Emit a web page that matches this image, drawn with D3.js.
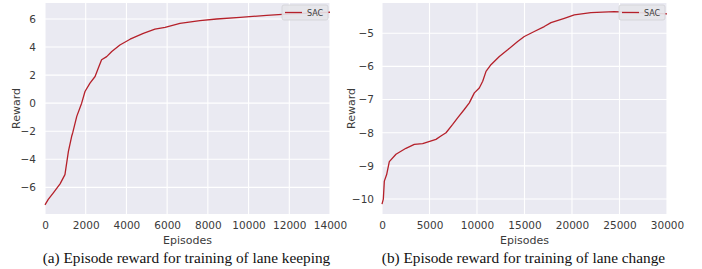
<!DOCTYPE html>
<html>
<head>
<meta charset="utf-8">
<script src="https://cdn.jsdelivr.net/npm/d3@7/dist/d3.min.js"></script>
<style>
  html, body { margin: 0; padding: 0; background: #fff; }
  svg { display: block; }
</style>
</head>
<body>
<div id="chart"></div>
<script>
// ---------- data ----------
const keepEpisodes = [0, 160, 410, 740, 980, 1150, 1310, 1360, 1560, 1800, 1965, 2210, 2460, 2620, 2780, 3030, 3280, 3680, 4180, 4830, 5400, 5900, 6630, 7610, 8430, 9580, 10890, 12040, 14000];
const keepReward = [-7.25, -6.86, -6.39, -5.75, -5.09, -3.43, -2.36, -2.12, -0.94, 0.0, 0.83, 1.43, 1.9, 2.5, 3.09, 3.32, 3.68, 4.15, 4.56, 4.98, 5.27, 5.41, 5.69, 5.88, 6.0, 6.12, 6.26, 6.36, 6.48];

const changeEpisodes = [0, 140, 245, 490, 770, 1470, 2520, 3400, 4280, 5680, 6200, 6740, 7440, 7960, 8660, 9190, 9720, 10240, 10600, 10950, 11470, 12350, 13230, 14280, 14980, 16030, 17080, 17790, 19190, 20240, 21990, 24450, 30000];
const changeReward = [-10.15, -10.0, -9.46, -9.26, -8.87, -8.65, -8.47, -8.35, -8.33, -8.2, -8.1, -8.0, -7.75, -7.55, -7.3, -7.1, -6.8, -6.65, -6.45, -6.15, -5.95, -5.7, -5.5, -5.25, -5.1, -4.95, -4.8, -4.68, -4.55, -4.45, -4.38, -4.35, -4.42];

const keepXTicks = [0, 2000, 4000, 6000, 8000, 10000, 12000, 14000];
const keepYTicks = [-6, -4, -2, 0, 2, 4, 6];
const changeXTicks = [0, 5000, 10000, 15000, 20000, 25000, 30000];
const changeYTicks = [-10, -9, -8, -7, -6, -5];

const seriesName = 'SAC';
const captions = ['(a) Episode reward for training of lane keeping', '(b) Episode reward for training of lane change'];

// ---------- drawing ----------
const width = 702;
const height = 269;
const bg = '#eaeaf2';
const lineColor = '#b5202a';
const textColor = '#3b3b3b';

const svg = d3.select('#chart').append('svg')
    .attr('width', width)
    .attr('height', height)
    .style('font-family', '"DejaVu Sans", sans-serif');

function drawPanel(cfg) {
    const x = d3.scaleLinear().domain(cfg.xDomain).range([cfg.left, cfg.right]);
    const y = d3.scaleLinear().domain(cfg.yDomain).range([cfg.bottom, cfg.top]);
    const g = svg.append('g');

    g.append('rect')
        .attr('x', cfg.left).attr('y', cfg.top)
        .attr('width', cfg.right - cfg.left)
        .attr('height', cfg.bottom - cfg.top)
        .attr('fill', bg);

    // grid
    g.selectAll('.vgrid').data(cfg.xTicks).join('line')
        .attr('x1', (d) => x(d)).attr('x2', (d) => x(d))
        .attr('y1', cfg.top).attr('y2', cfg.bottom)
        .attr('stroke', '#fff').attr('stroke-width', 1.1);
    g.selectAll('.hgrid').data(cfg.yTicks).join('line')
        .attr('x1', cfg.left).attr('x2', cfg.right)
        .attr('y1', (d) => y(d)).attr('y2', (d) => y(d))
        .attr('stroke', '#fff').attr('stroke-width', 1.1);

    // axes (labels only, seaborn style)
    const xAxis = g.append('g')
        .attr('transform', `translate(0,${cfg.bottom})`)
        .call(d3.axisBottom(x).tickValues(cfg.xTicks).tickSize(0).tickPadding(cfg.xPad).tickFormat(d3.format('d')));
    const yAxis = g.append('g')
        .attr('transform', `translate(${cfg.left},0)`)
        .call(d3.axisLeft(y).tickValues(cfg.yTicks).tickSize(0).tickPadding(cfg.yPad).tickFormat(d3.format('d')));
    [xAxis, yAxis].forEach((a) => {
        a.select('.domain').remove();
        a.selectAll('text')
            .attr('fill', textColor)
            .style('font-size', '10.5px')
            .style('font-family', '"DejaVu Sans", sans-serif');
    });

    // line
    const data = cfg.xs.map((d, i) => ({ ep: d, r: cfg.ys[i] }));
    g.append('path')
        .attr('d', d3.line().x((d) => x(d.ep)).y((d) => y(d.r))(data))
        .attr('fill', 'none')
        .attr('stroke', lineColor)
        .attr('stroke-width', 1.3)
        .attr('stroke-linejoin', 'round');

    // axis titles
    g.append('text')
        .attr('x', (cfg.left + cfg.right) / 2)
        .attr('y', 244)
        .attr('text-anchor', 'middle')
        .attr('fill', textColor)
        .style('font-size', '11px')
        .text('Episodes');
    g.append('text')
        .attr('transform', `translate(${cfg.yLabelX},${(cfg.top + cfg.bottom) / 2}) rotate(-90)`)
        .attr('text-anchor', 'middle')
        .attr('fill', textColor)
        .style('font-size', '11px')
        .text('Reward');

    // legend
    const lg = g.append('g').attr('transform', `translate(${cfg.legendX},5)`);
    lg.append('rect')
        .attr('width', 46).attr('height', 15)
        .attr('rx', 2)
        .attr('fill', '#e6e6ea').attr('fill-opacity', 0.9)
        .attr('stroke', '#d2d2d6').attr('stroke-width', 0.8);
    lg.append('line')
        .attr('x1', 3).attr('x2', 20)
        .attr('y1', 7.5).attr('y2', 7.5)
        .attr('stroke', lineColor).attr('stroke-width', 1.3);
    lg.append('text')
        .attr('x', 25).attr('y', 10.5)
        .attr('fill', textColor)
        .style('font-size', '8px')
        .text(seriesName);

    // caption
    svg.append('text')
        .attr('x', (cfg.left + cfg.right) / 2 - 1)
        .attr('y', 263)
        .attr('text-anchor', 'middle')
        .attr('fill', '#111')
        .style('font-family', '"Liberation Serif", "Times New Roman", serif')
        .style('font-size', '15.3px')
        .text(cfg.caption);
}

drawPanel({
    left: 45, right: 330, top: 3, bottom: 214,
    xDomain: [0, 14000], yDomain: [-7.9, 7.14],
    xTicks: keepXTicks, yTicks: keepYTicks,
    xs: keepEpisodes, ys: keepReward,
    xPad: 8, yPad: 9, yLabelX: 20, legendX: 282,
    caption: captions[0]
});

drawPanel({
    left: 382, right: 667, top: 3, bottom: 214,
    xDomain: [0, 30000], yDomain: [-10.45, -4.09],
    xTicks: changeXTicks, yTicks: changeYTicks,
    xs: changeEpisodes, ys: changeReward,
    xPad: 8, yPad: 8, yLabelX: 355, legendX: 619,
    caption: captions[1]
});
</script>
</body>
</html>
